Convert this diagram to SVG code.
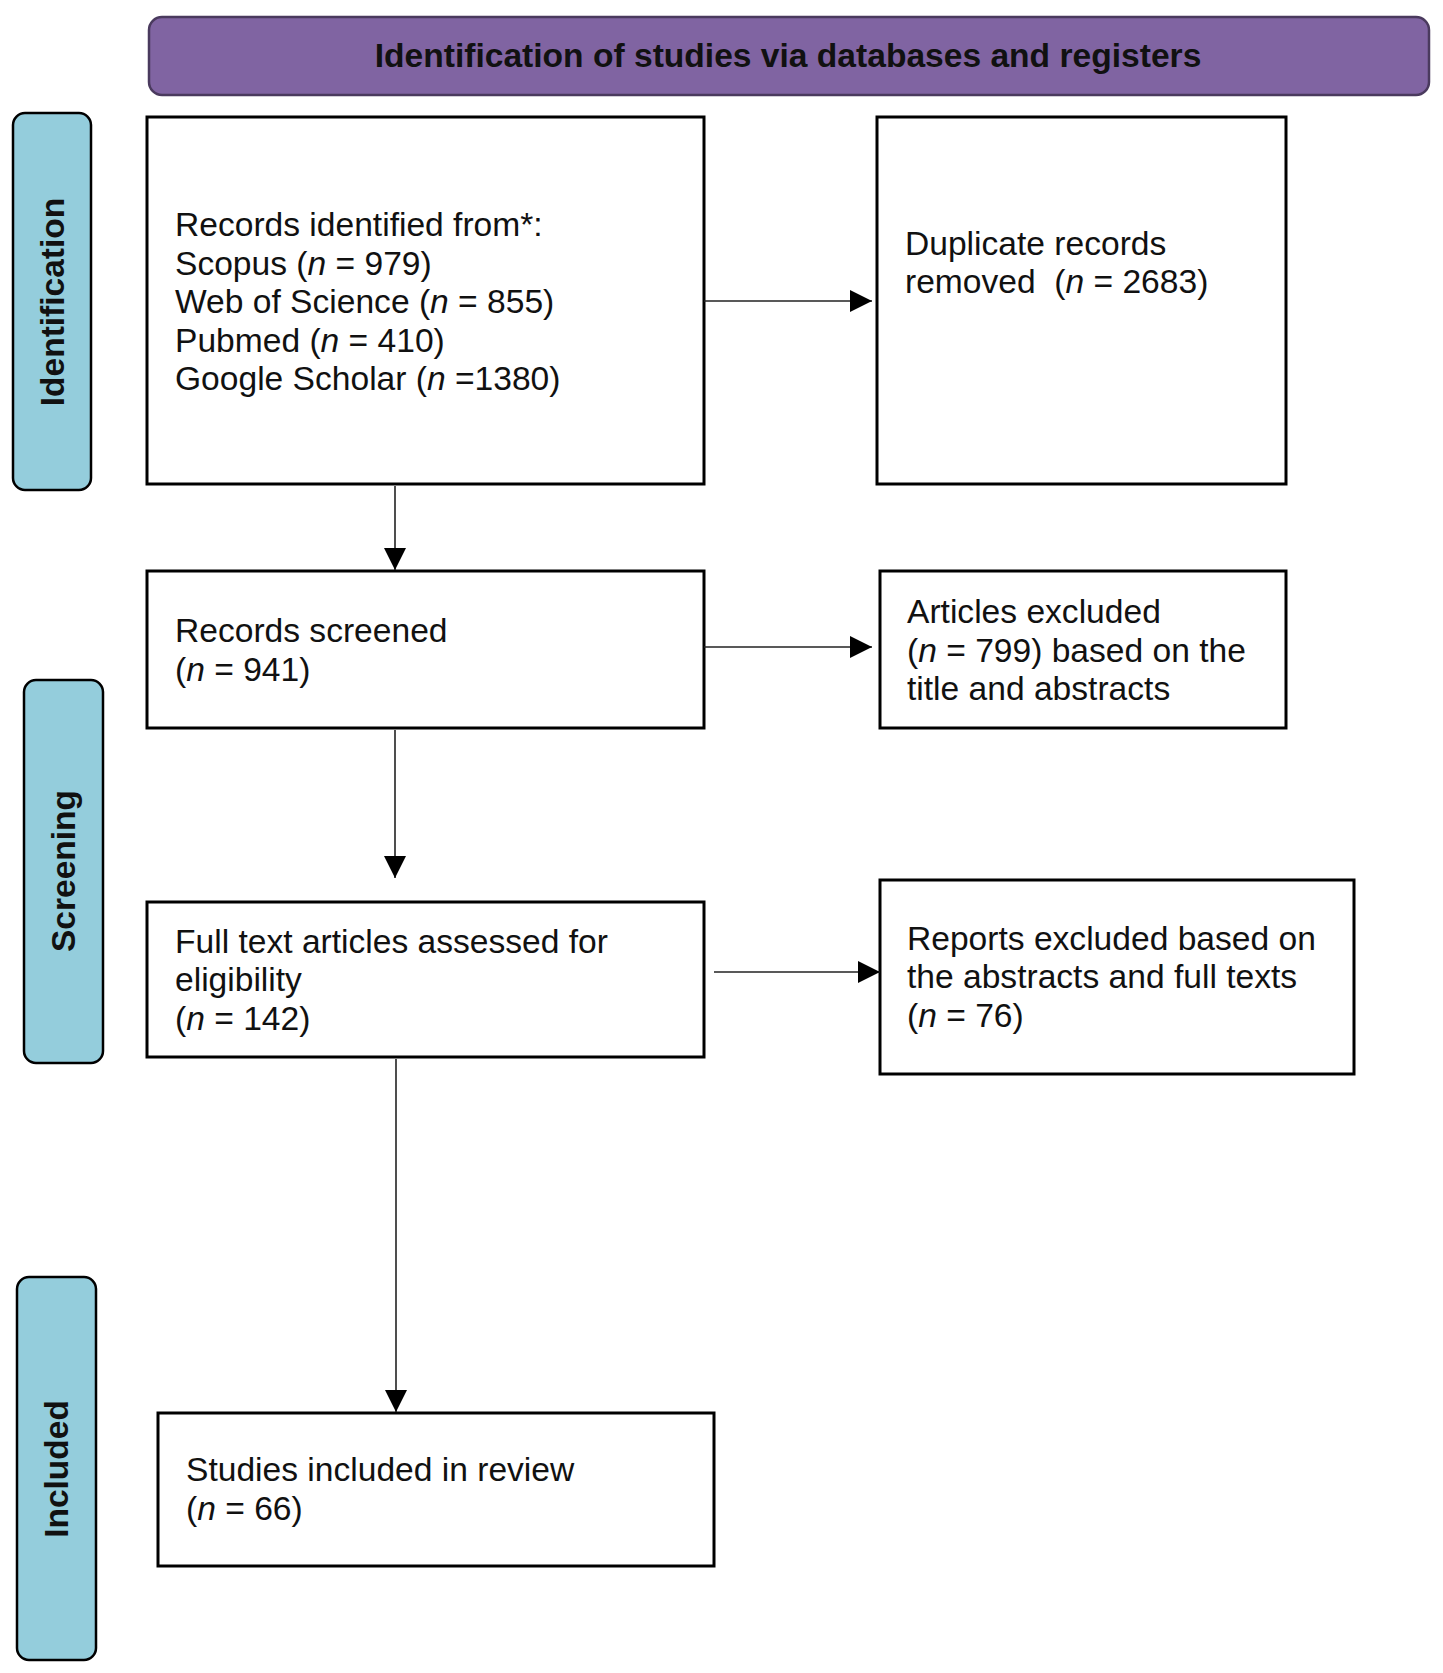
<svg xmlns="http://www.w3.org/2000/svg" width="1443" height="1673" viewBox="0 0 1443 1673">
<style>
.box{fill:#fff;stroke:#000;stroke-width:3}
.side{fill:#94CDDC;stroke:#000;stroke-width:2.5}
.top{fill:#8064A2;stroke:#4A3A5E;stroke-width:2.5}
.t{font-family:"Liberation Sans",Arial,sans-serif;font-size:33.6px;fill:#111}
.b{font-family:"Liberation Sans",Arial,sans-serif;font-size:33.6px;font-weight:bold;fill:#111}
.lbl{font-family:"Liberation Sans",Arial,sans-serif;font-size:33.5px;font-weight:bold;fill:#111;text-anchor:middle}
.c{stroke:#222;stroke-width:1.6;fill:none}
.i{font-style:italic}
</style>
<defs>
<marker id="ah" markerUnits="userSpaceOnUse" markerWidth="23" markerHeight="23" refX="22" refY="11" orient="auto">
<path d="M0,0 L22,11 L0,22 z" fill="#000"/>
</marker>
</defs>
<g id="header">
<rect class="top" x="149" y="17" width="1280" height="78" rx="13"/>
<text class="b" x="788" y="67" text-anchor="middle">Identification of studies via databases and registers</text>
</g>
<g id="phase-identification">
<rect class="side" x="13" y="113" width="78" height="377" rx="12"/>
<text class="lbl" transform="translate(64,302) rotate(-90)">Identification</text>
</g>
<g id="phase-screening">
<rect class="side" x="24" y="680" width="79" height="383" rx="12"/>
<text class="lbl" transform="translate(75,871) rotate(-90)">Screening</text>
</g>
<g id="phase-included">
<rect class="side" x="17" y="1277" width="79" height="383" rx="12"/>
<text class="lbl" transform="translate(68,1469) rotate(-90)">Included</text>
</g>
<g id="records-identified">
<rect class="box" x="147" y="117" width="557" height="367"/>
<text class="t" x="175" y="236">Records identified from*:</text>
<text class="t" x="175" y="274.5">Scopus (<tspan class="i">n</tspan> = 979)</text>
<text class="t" x="175" y="313">Web of Science (<tspan class="i">n</tspan> = 855)</text>
<text class="t" x="175" y="351.5">Pubmed (<tspan class="i">n</tspan> = 410)</text>
<text class="t" x="175" y="390">Google Scholar (<tspan class="i">n</tspan> =1380)</text>
</g>
<g id="duplicates-removed">
<rect class="box" x="877" y="117" width="409" height="367"/>
<text class="t" x="905" y="255">Duplicate records</text>
<text class="t" x="905" y="293" xml:space="preserve">removed  (<tspan class="i">n</tspan> = 2683)</text>
</g>
<g id="records-screened">
<rect class="box" x="147" y="571" width="557" height="157"/>
<text class="t" x="175" y="642">Records screened</text>
<text class="t" x="175" y="681">(<tspan class="i">n</tspan> = 941)</text>
</g>
<g id="articles-excluded">
<rect class="box" x="880" y="571" width="406" height="157"/>
<text class="t" x="907" y="623">Articles excluded</text>
<text class="t" x="907" y="662">(<tspan class="i">n</tspan> = 799) based on the</text>
<text class="t" x="907" y="700">title and abstracts</text>
</g>
<g id="full-text-assessed">
<rect class="box" x="147" y="902" width="557" height="155"/>
<text class="t" x="175" y="953">Full text articles assessed for</text>
<text class="t" x="175" y="991">eligibility</text>
<text class="t" x="175" y="1030">(<tspan class="i">n</tspan> = 142)</text>
</g>
<g id="reports-excluded">
<rect class="box" x="880" y="880" width="474" height="194"/>
<text class="t" x="907" y="950">Reports excluded based on</text>
<text class="t" x="907" y="988">the abstracts and full texts</text>
<text class="t" x="907" y="1027">(<tspan class="i">n</tspan> = 76)</text>
</g>
<g id="studies-included">
<rect class="box" x="158" y="1413" width="556" height="153"/>
<text class="t" x="186" y="1481">Studies included in review</text>
<text class="t" x="186" y="1520">(<tspan class="i">n</tspan> = 66)</text>
</g>
<g id="connectors">
<line class="c" x1="704" y1="301" x2="872" y2="301" marker-end="url(#ah)"/>
<line class="c" x1="395" y1="486" x2="395" y2="570" marker-end="url(#ah)"/>
<line class="c" x1="704" y1="647" x2="872" y2="647" marker-end="url(#ah)"/>
<line class="c" x1="395" y1="730" x2="395" y2="878" marker-end="url(#ah)"/>
<line class="c" x1="714" y1="972" x2="880" y2="972" marker-end="url(#ah)"/>
<line class="c" x1="396" y1="1059" x2="396" y2="1412" marker-end="url(#ah)"/>
</g>
</svg>
